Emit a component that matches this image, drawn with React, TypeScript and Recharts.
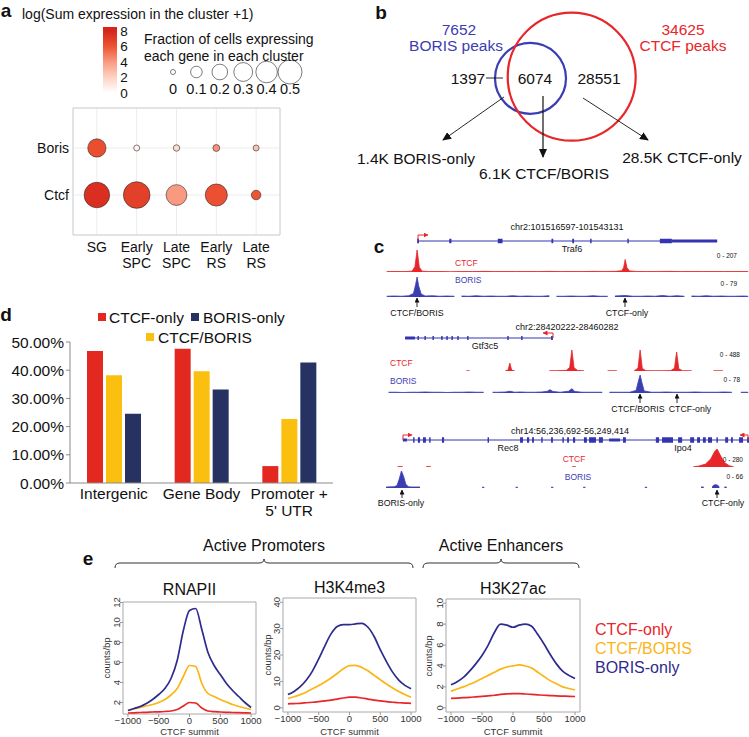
import React from "react";
import {
  ScatterChart,
  Scatter,
  XAxis,
  YAxis,
  ZAxis,
  CartesianGrid,
  ReferenceArea,
  BarChart,
  Bar,
  LineChart,
  Line,
  ComposedChart,
  AreaChart,
  Area,
} from "recharts";

const FONT = '"Liberation Sans", Arial, Helvetica, sans-serif';

// ---- a: dot plot ----
const clusters = ["SG", "Early\nSPC", "Late\nSPC", "Early\nRS", "Late\nRS"];
const genes = ["Ctcf", "Boris"];
const ctcfFraction = [0.57, 0.62, 0.37, 0.42, 0.06];
const borisFraction = [0.28, 0.01, 0.015, 0.02, 0.01];
const ctcfExpr = [7.6, 6.9, 4.0, 6.2, 6.0];
const borisExpr = [6.3, 0.6, 1.6, 4.2, 2.6];
const fractionBreaks = [0, 0.1, 0.2, 0.3, 0.4, 0.5];
const exprBreaks = [8, 6, 4, 2, 0];
const exprStops: [number, string][] = [
  [0, "#ffffff"],
  [2, "#fdd3c4"],
  [4, "#f99a80"],
  [6, "#ec5533"],
  [8, "#d6261b"],
];

// ---- b: venn ----
const vennSets = ["BORIS", "CTCF"];
const vennTotals = [7652, 34625];
const vennRegions = [1397, 6074, 28551];
const vennLabels = ["1.4K BORIS-only", "6.1K CTCF/BORIS", "28.5K CTCF-only"];

// ---- c: browser tracks (position in window 0-100, signal) ----
const ctcf1 = [[0.5,4],[3,5],[5.5,4],[7.4,8],[8.2,50],[8.8,207],[9.4,45],[10.2,8],[12,4],[15,5],[18,3],[21,5],[24,4],[27,6],[30,4],[33,5],[36,4],[39,5],[42,4],[45,6],[48,4],[51,5],[54,4],[57,6],[60,5],[63,6],[64.9,12],[65.4,45],[65.8,118],[66.3,40],[67,10],[69,5],[72,4],[75,5],[78,6],[81,4],[84,5],[87,4],[90,5],[93,4],[96,5],[99.5,4]];
const boris1 = [[0.5,3],[2.5,4],[4.5,3],[6.5,5],[7.8,14],[8.4,50],[8.8,79],[9.2,45],[9.9,12],[11,4],[13,5],[15,3],[17,4],[19,3],[20,null],[21,4],[23,3],[25,5],[27,3],[29,4],[31,3],[33,3],[35,5],[37,3],[39,4],[41,3],[43,3],[45,5],[46,null],[47,3],[49,3],[51,4],[53,3],[55,3],[57,5],[59,3],[61,3],[62.5,null],[63,4],[65.8,6],[68,3],[70,3],[72,4],[74,3],[76,6],[78,3],[80,5],[82,3],[83,null],[84,4],[86,3],[88,5],[90,3],[92,4],[94,3],[96,3],[98,4],[99.5,3]];
const ctcf2 = [[22.3,5],[23.2,5],[23.6,null],[33,5],[33.7,20],[34.2,177],[34.7,20],[35.5,5],[36,null],[45,6],[47,8],[49.7,15],[50.6,80],[51.2,466],[51.8,70],[52.8,12],[54.5,6],[55,null],[61,5],[63.5,6],[64,null],[68.3,8],[69.3,60],[69.9,466],[70.5,55],[71.5,8],[74,6],[76,7],[78.3,10],[79.3,60],[79.9,421],[80.5,50],[81.5,8],[84,6],[84.5,null],[90,5],[92.6,5]];
const boris2 = [[1,3],[3,3],[5,2],[7,3],[9,3],[11,4],[13,3],[15,3],[17,2],[19,3],[21,3],[23,4],[25,3],[27,3],[27.5,null],[29.5,3],[31,3],[33,4],[34.2,7],[35.5,3],[37,4],[39,3],[41,3],[43,4],[44.5,7],[45.2,13],[46,6],[48,3],[50.3,7],[51.2,17],[52,6],[54,3],[56,3],[58,3],[59.5,3],[60,null],[61.5,3],[63,3],[65,3],[67,3],[68.8,10],[69.4,45],[69.9,70],[70.4,40],[71,8],[73,3],[75,3],[77,4],[79,3],[81,3],[83,3],[85,4],[87,3],[89,3],[91,3],[93,4],[95,3],[96,null],[97.5,3],[99.5,3]];
const ctcf3 = [[3.5,6],[4.8,6],[5,null],[11.3,6],[12.5,6],[12.7,null],[51.3,5],[52.3,5],[52.5,null],[84.5,4],[86,15],[87.8,45],[89.3,130],[90.3,240],[91,280],[91.8,190],[93,70],[94.3,20],[95.5,5]];
const boris3 = [[0.3,4],[2.5,5],[3.3,10],[3.9,35],[4.5,66],[5.1,45],[5.7,15],[6.4,5],[7.3,4],[8.5,4],[9.6,4],[9.8,null],[26.6,3],[27.2,3],[27.4,null],[35.8,3],[36.4,3],[36.6,null],[45.5,3],[46.1,3],[46.3,null],[54.3,3],[54.9,3],[55.1,null],[71.2,3],[71.8,3],[72,null],[86.6,4],[87.3,4],[87.5,null],[89.6,5],[90.3,13],[91,12],[91.6,5],[91.8,null],[93,4],[93.6,4]];

const gene1 = [9.0, 91.0];
const exons1 = [[8.8,9.3,"c"],[17.6,18.2,"c"],[30.9,32.2,"c"],[45.6,46.1,"c"],[51.3,51.8,"c"],[56.2,56.6,"c"],[66.4,66.8,"c"],[75.3,78.6,"c"],[78.6,91.0,"u"]];
const gene2 = [5.5, 46.0];
const exons2 = [[5.5,8.2,"u"],[8.9,9.3,"c"],[10.8,11.2,"c"],[13.0,13.4,"c"],[15.4,15.8,"c"],[16.8,17.2,"c"],[18.2,18.6,"c"],[19.8,20.2,"c"],[22.5,22.9,"c"],[33.5,33.9,"c"],[37.3,37.7,"c"],[45.5,46.0,"c"]];
const gene3 = [4.9, 100];
const exons3 = [[4.9,6.0,"u"],[7.7,8.1,"c"],[9.0,9.6,"c"],[10.4,11.2,"c"],[12.1,12.5,"c"],[15.6,16.2,"c"],[28.1,28.5,"c"],[37.0,37.8,"c"],[38.9,39.5,"c"],[40.3,40.8,"c"],[42.8,43.2,"c"],[45.5,46.0,"c"],[48.6,49.0,"c"],[49.9,50.4,"c"],[51.5,52.1,"c"],[54.5,55.3,"c"],[55.9,57.8,"c"],[58.6,59.7,"c"],[61.4,64.4,"u"],[65.2,66.0,"c"],[74.2,75.1,"c"],[75.9,78.9,"c"],[80.3,81.4,"c"],[83.6,84.7,"c"],[85.5,86.3,"c"],[87.1,87.9,"c"],[88.5,89.6,"c"],[90.8,91.2,"c"],[93.2,94.0,"c"],[94.8,95.3,"c"],[97.0,98.1,"c"],[99.2,100,"c"]];

// ---- d: genomic distribution ----
const regionCats = ["Intergenic", "Gene Body", "Promoter +\n5' UTR"];
const ctcfOnlyPct = [46.8, 47.6, 6.0];
const ctcfBorisPct = [38.2, 39.6, 22.7];
const borisOnlyPct = [24.6, 33.2, 42.7];
const pctTicks = [0, 10, 20, 30, 40, 50];

// ---- e: profiles around CTCF summit ----
const profileX = [-1000,-900,-800,-700,-600,-500,-400,-300,-200,-100,0,100,200,300,400,500,600,700,800,900,1000];
const rnapBoris = [1.2,1.4,1.6,1.9,2.3,2.8,3.4,4.4,6.2,9.2,11.2,11.4,9.3,7.0,5.7,4.8,3.9,3.2,2.6,2.0,1.5];
const rnapBoth = [1.2,1.35,1.5,1.65,1.8,2.0,2.3,2.75,3.4,4.6,5.7,5.6,3.9,2.9,2.6,2.3,2.05,1.8,1.6,1.45,1.3];
const rnapCtcf = [0.95,0.97,1.0,1.02,1.05,1.07,1.1,1.15,1.3,1.65,2.0,1.95,1.45,1.15,1.08,1.05,1.02,1.0,0.98,0.96,0.95];
const k4Boris = [5.0,6.2,8.0,10.5,14,18.5,23.5,28,30.8,31.5,31.5,31.8,32.0,30.5,27,22,17.5,13.5,10.5,8.5,7.2];
const k4Both = [3.5,4.2,5.0,6.0,7.2,8.4,9.8,11.3,13.0,14.8,16.0,16.1,15.3,14.0,12.3,10.6,9.0,7.5,6.2,5.0,4.0];
const k4Ctcf = [1.5,1.6,1.7,1.9,2.1,2.3,2.6,2.9,3.3,3.7,4.0,4.0,3.7,3.3,2.9,2.6,2.3,2.1,1.9,1.8,1.7];
const k27Boris = [2.2,2.5,2.9,3.5,4.2,5.0,6.0,7.2,8.0,7.9,7.7,7.9,8.0,7.8,7.0,6.1,5.1,4.2,3.5,3.1,2.8];
const k27Both = [1.6,1.8,2.0,2.25,2.5,2.8,3.1,3.4,3.7,3.9,4.0,4.1,4.0,3.8,3.4,3.0,2.6,2.3,2.0,1.85,1.7];
const k27Ctcf = [0.9,0.93,0.97,1.0,1.05,1.1,1.15,1.2,1.28,1.33,1.35,1.35,1.32,1.28,1.24,1.2,1.17,1.14,1.12,1.1,1.08];
const groupNames = ["CTCF-only", "CTCF/BORIS", "BORIS-only"];

const RED = "#e3281f";
const YEL = "#fbbf0f";
const NAVY_BAR = "#253262";
const NAVY = "#2e2b8e";
const LRED = "#e8262a";
const LYEL = "#fbb514";
const BLUE = "#3b3db3";
const GENE = "#3434b0";

function hex(c: string) {
  return [1, 3, 5].map((i) => parseInt(c.slice(i, i + 2), 16));
}
function exprColor(v: number) {
  const s = exprStops;
  if (v <= s[0][0]) return s[0][1];
  for (let i = 0; i < s.length - 1; i++) {
    if (v <= s[i + 1][0]) {
      const t = (v - s[i][0]) / (s[i + 1][0] - s[i][0]);
      const a = hex(s[i][1]);
      const b = hex(s[i + 1][1]);
      return `rgb(${a.map((x, k) => Math.round(x + (b[k] - x) * t)).join(",")})`;
    }
  }
  return s[s.length - 1][1];
}

const T = ({ x, y, s = 14, c = "#111", a = "middle", w = 400, r, children }: any) => (
  <text
    x={x}
    y={y}
    fontSize={s}
    fill={c}
    textAnchor={a}
    fontWeight={w}
    dominantBaseline="central"
    fontFamily={FONT}
    transform={r ? `rotate(${r} ${x} ${y})` : undefined}
  >
    {children}
  </text>
);

const Abs = ({ left, top, children }: any) => (
  <div style={{ position: "absolute", left, top }}>{children}</div>
);

// ---------- panel a ----------
const dotRows = [
  ...clusters.map((_, i) => ({ x: i, y: 1, frac: ctcfFraction[i], expr: ctcfExpr[i] })),
  ...clusters.map((_, i) => ({ x: i, y: 2, frac: borisFraction[i], expr: borisExpr[i] })),
];
const legendRows = fractionBreaks.map((f, i) => ({ x: i, y: 0.5, frac: f }));
const Z_DOMAIN = [0, 0.65];
const Z_RANGE = [Math.PI * 6.25, Math.PI * 185];

const radiusOf = (p: any) => (p.size ? Math.sqrt(p.size / Math.PI) : p.width / 2);

const DotShape = (p: any) => (
  <circle cx={p.cx} cy={p.cy} r={radiusOf(p)} fill={exprColor(p.payload.expr)} stroke="#2b2b2b" strokeWidth={0.6} />
);
const LegendDot = (p: any) => (
  <circle cx={p.cx} cy={p.cy} r={radiusOf(p)} fill="#fff" stroke="#444" strokeWidth={0.7} />
);

const ClusterTick = ({ x, y, payload }: any) => {
  const lines = clusters[payload.value].split("\n");
  return (
    <text x={x} y={y} textAnchor="middle" fontSize={14} fill="#111" fontFamily={FONT}>
      {lines.map((l, i) => (
        <tspan key={i} x={x} dy={i === 0 ? 16.5 : 16.7}>
          {l}
        </tspan>
      ))}
    </text>
  );
};
const GeneTick = ({ x, y, payload }: any) => (
  <text x={x} y={y} textAnchor="end" dominantBaseline="central" fontSize={14} fill="#111" fontFamily={FONT}>
    {genes[payload.value - 1]}
  </text>
);

function DotPlot() {
  return (
    <Abs left={0} top={100}>
      <ScatterChart width={290} height={180} margin={{ top: 8, right: 10, bottom: 5, left: 13 }}>
        <CartesianGrid stroke="#ececec" />
        <XAxis type="number" dataKey="x" domain={[-0.6, 4.6]} ticks={[0, 1, 2, 3, 4]} interval={0}
          tick={<ClusterTick />} tickSize={0} tickMargin={0} axisLine={false} tickLine={false} height={40} />
        <YAxis type="number" dataKey="y" domain={[0.15, 2.85]} ticks={[1, 2]} interval={0}
          tick={<GeneTick />} tickSize={0} tickMargin={4} axisLine={false} tickLine={false} width={60} />
        <ZAxis type="number" dataKey="frac" domain={Z_DOMAIN} range={Z_RANGE} />
        <ReferenceArea x1={-0.6} x2={4.6} y1={0.15} y2={2.85} fill="none" stroke="#d2d2d2" ifOverflow="visible" />
        <Scatter data={dotRows} shape={DotShape} isAnimationActive={false} />
      </ScatterChart>
    </Abs>
  );
}

function SizeLegend() {
  return (
    <Abs left={160} top={60}>
      <ScatterChart width={145} height={42} margin={{ top: 0, right: 0, bottom: 0, left: 0 }}>
        <XAxis type="number" dataKey="x" domain={[-0.556, 5.64]} ticks={[0, 1, 2, 3, 4, 5]} interval={0}
          tickFormatter={(v) => String(fractionBreaks[v])} tick={{ fontSize: 14.5, fill: "#111", fontFamily: FONT }}
          axisLine={false} tickLine={false} tickSize={0} tickMargin={0} height={18} />
        <YAxis type="number" dataKey="y" domain={[0, 1]} hide />
        <ZAxis type="number" dataKey="frac" domain={Z_DOMAIN} range={Z_RANGE} />
        <Scatter data={legendRows} shape={LegendDot} isAnimationActive={false} />
      </ScatterChart>
    </Abs>
  );
}

// ---------- panel b ----------
const VENN_CENTERS = [
  [160.5, 78.3],
  [201.7, 76.7],
];
const vennRows = vennSets.map((s, i) => ({ name: s, total: vennTotals[i], x: VENN_CENTERS[i][0], y: VENN_CENTERS[i][1] }));
const VennCircle = (p: any) => (
  <circle cx={p.cx} cy={p.cy} r={radiusOf(p)} fill="none" stroke={p.payload.name === "CTCF" ? LRED : BLUE} strokeWidth={2.2} />
);
function Venn() {
  return (
    <Abs left={370} top={0}>
      <ScatterChart width={379} height={175} margin={{ top: 0, right: 0, bottom: 0, left: 0 }}>
        <XAxis type="number" dataKey="x" domain={[0, 379]} hide />
        <YAxis type="number" dataKey="y" domain={[0, 175]} reversed hide />
        <ZAxis type="number" dataKey="total" domain={[7652, 34625]} range={[Math.PI * 35.5 * 35.5, Math.PI * 64 * 64]} />
        <Scatter data={vennRows} shape={VennCircle} isAnimationActive={false} />
      </ScatterChart>
    </Abs>
  );
}

// ---------- panel c ----------
function GeneModel({ top, span, exons, tall, thin }: any) {
  const data = [{ u: span[0], y: 0 }, { u: span[1], y: 0 }];
  const unit = 14 / 2;
  return (
    <Abs left={385} top={top}>
      <ComposedChart width={365} height={14} data={data} margin={{ top: 0, right: 0, bottom: 0, left: 0 }}>
        <XAxis type="number" dataKey="u" domain={[0, 100]} hide />
        <YAxis type="number" domain={[-1, 1]} hide />
        <Line dataKey="y" stroke={GENE} strokeWidth={1} dot={false} isAnimationActive={false} />
        {exons.map(([a, b, k]: any, i: number) => {
          const h = (k === "c" ? tall : thin) / 2 / unit;
          return (
            <ReferenceArea key={i} x1={a} x2={Math.max(b, a + 0.3)} y1={-h} y2={h} fill={GENE} fillOpacity={1} stroke="none" ifOverflow="visible" />
          );
        })}
      </ComposedChart>
    </Abs>
  );
}

function SignalTrack({ top, height, max, points, color }: any) {
  const data = points.map(([u, v]: any) => ({ u, v }));
  return (
    <Abs left={385} top={top - 1}>
      <AreaChart width={365} height={height + 3} data={data} margin={{ top: 1, right: 0, bottom: 2, left: 0 }}>
        <XAxis type="number" dataKey="u" domain={[0, 100]} hide />
        <YAxis type="number" domain={[0, max]} hide allowDataOverflow />
        <Area type="linear" dataKey="v" stroke={color} strokeWidth={0.8} fill={color} fillOpacity={1}
          connectNulls={false} dot={false} activeDot={false} isAnimationActive={false} />
      </AreaChart>
    </Abs>
  );
}

// ---------- panel d ----------
const barRows = regionCats.map((c, i) => ({
  cat: c,
  ctcfOnly: ctcfOnlyPct[i],
  ctcfBoris: ctcfBorisPct[i],
  borisOnly: borisOnlyPct[i],
}));
const CatTick = ({ x, y, payload }: any) => {
  const lines = String(payload.value).split("\n");
  return (
    <text x={x} y={y} textAnchor="middle" fontSize={15.5} fill="#111" fontFamily={FONT}>
      {lines.map((l, i) => (
        <tspan key={i} x={x} dy={i === 0 ? 15.5 : 17}>
          {l}
        </tspan>
      ))}
    </text>
  );
};
function Bars() {
  return (
    <Abs left={0} top={330}>
      <BarChart width={345} height={193} data={barRows} margin={{ top: 12, right: 12, bottom: 0, left: 0 }} barGap={3}>
        <XAxis dataKey="cat" interval={0} tick={<CatTick />} tickLine={false} tickSize={0} tickMargin={0}
          axisLine={{ stroke: "#8a8a8a" }} height={40} />
        <YAxis type="number" domain={[0, 50]} ticks={pctTicks} interval={0} width={70}
          tickFormatter={(v) => `${v.toFixed(2)}%`} tick={{ fontSize: 15.5, fill: "#111", fontFamily: FONT }}
          axisLine={{ stroke: "#8a8a8a" }} tickLine={{ stroke: "#8a8a8a" }} tickSize={4} tickMargin={2} />
        <Bar dataKey="ctcfOnly" fill={RED} barSize={16} isAnimationActive={false} />
        <Bar dataKey="ctcfBoris" fill={YEL} barSize={16} isAnimationActive={false} />
        <Bar dataKey="borisOnly" fill={NAVY_BAR} barSize={16} isAnimationActive={false} />
      </BarChart>
    </Abs>
  );
}

// ---------- panel e ----------
const fmtX = (v: number) => (v < 0 ? `\u2212${Math.abs(v)}` : String(v));
const XTick = ({ x, y, payload }: any) => (
  <text x={x} y={y} dy={7.2} textAnchor="middle" fontSize={9.5} fill="#333" fontFamily={FONT}>
    {fmtX(payload.value)}
  </text>
);
const YTick = ({ x, y, payload }: any) => (
  <text x={x} y={y} textAnchor="middle" fontSize={9.5} fill="#333" fontFamily={FONT} transform={`rotate(-90 ${x} ${y})`}>
    {payload.value}
  </text>
);

function Profile({ box, yDomain, yTicks, boris, both, ctcf }: any) {
  const [bl, br, bt, bb] = box;
  const rows = profileX.map((x, i) => ({ x, boris: boris[i], both: both[i], ctcf: ctcf[i] }));
  const left = bl - 30;
  const padTop = 10;
  const padRight = 16;
  return (
    <Abs left={left} top={bt - padTop}>
      <LineChart width={br - left + padRight} height={bb - bt + padTop + 22} data={rows}
        margin={{ top: padTop, right: padRight, bottom: 0, left: 0 }}>
        <XAxis type="number" dataKey="x" domain={[-1080, 1080]} ticks={[-1000, -500, 0, 500, 1000]} interval={0}
          tick={<XTick />} tickSize={3} tickMargin={0} axisLine={false} tickLine={{ stroke: "#999" }} height={22} />
        <YAxis type="number" domain={yDomain} ticks={yTicks} interval={0} allowDataOverflow
          tick={<YTick />} tickSize={3} tickMargin={0} axisLine={false} tickLine={{ stroke: "#999" }} width={30} />
        <ReferenceArea x1={-1080} x2={1080} y1={yDomain[0]} y2={yDomain[1]} fill="none" stroke="#a8a8a8" ifOverflow="visible" />
        <Line type="monotone" dataKey="ctcf" stroke={LRED} strokeWidth={1.7} dot={false} isAnimationActive={false} />
        <Line type="monotone" dataKey="both" stroke={LYEL} strokeWidth={1.7} dot={false} isAnimationActive={false} />
        <Line type="monotone" dataKey="boris" stroke={NAVY} strokeWidth={1.7} dot={false} isAnimationActive={false} />
      </LineChart>
    </Abs>
  );
}

// ---------- annotations ----------
function Overlay() {
  const cbTop = 27;
  const cbH = 69;
  const yOf = (v: number) => 93 - v * 7.75;
  const brace = (x1: number, xm: number, x2: number, y: number) =>
    `M${x1},${y + 5} Q${x1},${y} ${x1 + 5},${y} L${xm - 5},${y} Q${xm},${y} ${xm},${y - 4} Q${xm},${y} ${xm + 5},${y} L${x2 - 5},${y} Q${x2},${y} ${x2},${y + 5}`;
  const upArrow = (x: number, y1: number, y2: number, k: string) => (
    <line key={k} x1={x} y1={y1} x2={x} y2={y2} stroke="#111" strokeWidth={0.9} markerEnd="url(#ahs)" />
  );
  return (
    <svg width={749} height={737} style={{ position: "absolute", left: 0, top: 0, pointerEvents: "none" }}>
      <defs>
        <linearGradient id="cbar" x1="0" y1="0" x2="0" y2="1">
          {[8, 7, 6, 5, 4, 3, 2, 1, 0].map((v) => (
            <stop key={v} offset={(yOf(v) - cbTop) / cbH} stopColor={exprColor(v)} />
          ))}
        </linearGradient>
        <marker id="ah" markerUnits="userSpaceOnUse" markerWidth={9} markerHeight={8} refX={8} refY={4} orient="auto">
          <path d="M0,0 L9,4 L0,8 z" fill="#111" />
        </marker>
        <marker id="ahs" markerUnits="userSpaceOnUse" markerWidth={5} markerHeight={5} refX={4.5} refY={2.5} orient="auto">
          <path d="M0,0 L5,2.5 L0,5 z" fill="#111" />
        </marker>
        <marker id="ahr" markerUnits="userSpaceOnUse" markerWidth={5} markerHeight={5} refX={4.5} refY={2.5} orient="auto">
          <path d="M0,0 L5,2.5 L0,5 z" fill={LRED} />
        </marker>
      </defs>

      {/* a */}
      <T x={6} y={10} s={19} w={700} a="middle">a</T>
      <T x={22} y={14} a="start">log(Sum expression in the cluster +1)</T>
      <rect x={103} y={cbTop} width={14} height={cbH} fill="url(#cbar)" />
      {exprBreaks.map((v) => (
        <T key={v} x={124} y={yOf(v)} s={13.5}>{v}</T>
      ))}
      <T x={144} y={39} a="start">Fraction of cells expressing</T>
      <T x={144} y={56} a="start">each gene in each cluster</T>

      {/* b */}
      <T x={381} y={12} s={19} w={700}>b</T>
      <T x={459} y={29} s={15.5} c={BLUE}>{vennTotals[0]}</T>
      <T x={456} y={45} s={15.5} c={BLUE}>BORIS peaks</T>
      <T x={683} y={29} s={15.5} c={LRED}>{vennTotals[1]}</T>
      <T x={683} y={45} s={15.5} c={LRED}>CTCF peaks</T>
      <T x={468} y={78} s={15.5}>{vennRegions[0]}</T>
      <T x={535} y={78} s={15.5}>{vennRegions[1]}</T>
      <T x={599} y={78} s={15.5}>{vennRegions[2]}</T>
      <line x1={486} y1={78} x2={503} y2={78} stroke="#111" strokeWidth={0.9} />
      <line x1={504} y1={97} x2={443} y2={140} stroke="#111" strokeWidth={0.9} markerEnd="url(#ah)" />
      <line x1={543} y1={96} x2={543} y2={157} stroke="#111" strokeWidth={1.2} markerEnd="url(#ah)" />
      <line x1={583} y1={98} x2={648} y2={140} stroke="#111" strokeWidth={0.9} markerEnd="url(#ah)" />
      <T x={416} y={158} s={15.5}>{vennLabels[0]}</T>
      <T x={544} y={173} s={15.5}>{vennLabels[1]}</T>
      <T x={682} y={157} s={15.5}>{vennLabels[2]}</T>

      {/* c */}
      <T x={379} y={246} s={19} w={700}>c</T>
      <T x={567} y={227} s={9}>chr2:101516597-101543131</T>
      <T x={572} y={249} s={9}>Traf6</T>
      <path d="M418,241 L418,235 L428,235" fill="none" stroke={LRED} strokeWidth={1} markerEnd="url(#ahr)" />
      <T x={737} y={255} s={6.5} a="end">0 - 207</T>
      <T x={455} y={263} s={8.5} c={LRED} a="start">CTCF</T>
      <T x={737} y={283} s={6.5} a="end">0 - 79</T>
      <T x={455} y={280} s={8.5} c={BLUE} a="start">BORIS</T>
      {upArrow(417, 307, 298, "a1")}
      {upArrow(625, 307, 298, "a2")}
      <T x={417} y={313} s={8.8}>CTCF/BORIS</T>
      <T x={627} y={313} s={8.8}>CTCF-only</T>

      <T x={567} y={327} s={9}>chr2:28420222-28460282</T>
      <T x={485} y={346} s={9}>Gtf3c5</T>
      <path d="M553,338 L553,333 L543,333" fill="none" stroke={LRED} strokeWidth={1} markerEnd="url(#ahr)" />
      <T x={740} y={354} s={6.5} a="end">0 - 488</T>
      <T x={390} y={363} s={8.5} c={LRED} a="start">CTCF</T>
      <T x={740} y={379} s={6.5} a="end">0 - 78</T>
      <T x={390} y={381} s={8.5} c={BLUE} a="start">BORIS</T>
      {upArrow(640, 403, 394, "a3")}
      {upArrow(677, 403, 394, "a4")}
      <T x={638} y={409} s={8.8}>CTCF/BORIS</T>
      <T x={690} y={409} s={8.8}>CTCF-only</T>

      <T x={570} y={431} s={9}>chr14:56,236,692-56,249,414</T>
      <T x={508} y={448} s={9}>Rec8</T>
      <T x={683} y={448} s={9}>Ipo4</T>
      <path d="M403,440 L403,435 L412,435" fill="none" stroke={LRED} strokeWidth={1} markerEnd="url(#ahr)" />
      <path d="M748,440 L748,435 L740,435" fill="none" stroke={LRED} strokeWidth={1} markerEnd="url(#ahr)" />
      <T x={574} y={459} s={8.5} c={LRED}>CTCF</T>
      <T x={743} y={459} s={6.5} a="end">0 - 280</T>
      <T x={578} y={477} s={8.5} c={BLUE}>BORIS</T>
      <T x={743} y={476} s={6.5} a="end">0 - 66</T>
      {upArrow(402, 498, 490, "a5")}
      {upArrow(717, 498, 490, "a6")}
      <T x={401} y={503} s={8.8}>BORIS-only</T>
      <T x={723} y={503} s={8.8}>CTCF-only</T>

      {/* d */}
      <T x={6} y={314} s={19} w={700}>d</T>
      <rect x={98} y={313} width={8} height={8} fill={RED} />
      <T x={109} y={317} s={15.5} a="start">{groupNames[0]}</T>
      <rect x={191} y={313} width={8} height={8} fill={NAVY_BAR} />
      <T x={203} y={317} s={15.5} a="start">{groupNames[2]}</T>
      <rect x={146} y={333} width={8} height={8} fill={YEL} />
      <T x={158} y={337} s={15.5} a="start">{groupNames[1]}</T>

      {/* e */}
      <T x={88} y={558} s={19} w={700}>e</T>
      <T x={264} y={545} s={16}>Active Promoters</T>
      <T x={501} y={545} s={16}>Active Enhancers</T>
      <path d={brace(115, 264, 413, 563)} fill="none" stroke="#333" strokeWidth={1} />
      <path d={brace(423, 501, 579, 563)} fill="none" stroke="#333" strokeWidth={1} />
      <T x={189.5} y={589} s={16}>RNAPII</T>
      <T x={349.5} y={587} s={16}>H3K4me3</T>
      <T x={513} y={588} s={16}>H3K27ac</T>
      <T x={106} y={658} s={9.5} c="#333" r={-90}>counts/bp</T>
      <T x={267} y={655} s={9.5} c="#333" r={-90}>counts/bp</T>
      <T x={428} y={656} s={9.5} c="#333" r={-90}>counts/bp</T>
      <T x={189.5} y={731.5} s={9.5} c="#333">CTCF summit</T>
      <T x={349.5} y={731} s={9.5} c="#333">CTCF summit</T>
      <T x={513} y={731.5} s={9.5} c="#333">CTCF summit</T>
      <T x={595} y={629} s={16} c={LRED} a="start">{groupNames[0]}</T>
      <T x={595} y={648} s={16} c={LYEL} a="start">{groupNames[1]}</T>
      <T x={595} y={667} s={16} c={NAVY} a="start">{groupNames[2]}</T>
    </svg>
  );
}

export default function App() {
  return (
    <div style={{ position: "relative", width: 749, height: 737, background: "#fff", fontFamily: FONT, overflow: "hidden" }}>
      <style>{"body{margin:0}"}</style>
      <DotPlot />
      <SizeLegend />
      <Venn />

      <GeneModel top={234} span={gene1} exons={exons1} tall={4.5} thin={3} />
      <SignalTrack top={250} height={22} max={207} points={ctcf1} color={LRED} />
      <SignalTrack top={277} height={20} max={79} points={boris1} color={BLUE} />
      <GeneModel top={331} span={gene2} exons={exons2} tall={4} thin={3} />
      <SignalTrack top={349} height={22} max={488} points={ctcf2} color={LRED} />
      <SignalTrack top={373} height={20} max={78} points={boris2} color={BLUE} />
      <GeneModel top={433} span={gene3} exons={exons3} tall={5.5} thin={3} />
      <SignalTrack top={449} height={18} max={280} points={ctcf3} color={LRED} />
      <SignalTrack top={471} height={17} max={66} points={boris3} color={BLUE} />

      <Bars />

      <Profile box={[123, 256, 602, 714]} yDomain={[0.85, 12.05]} yTicks={[2, 4, 6, 8, 10, 12]}
        boris={rnapBoris} both={rnapBoth} ctcf={rnapCtcf} />
      <Profile box={[283, 416, 598, 712]} yDomain={[-1.6, 41.6]} yTicks={[0, 10, 20, 30, 40]}
        boris={k4Boris} both={k4Both} ctcf={k4Ctcf} />
      <Profile box={[446, 580, 599, 712]} yDomain={[-0.4, 10.4]} yTicks={[0, 2, 4, 6, 8, 10]}
        boris={k27Boris} both={k27Both} ctcf={k27Ctcf} />

      <Overlay />
    </div>
  );
}
